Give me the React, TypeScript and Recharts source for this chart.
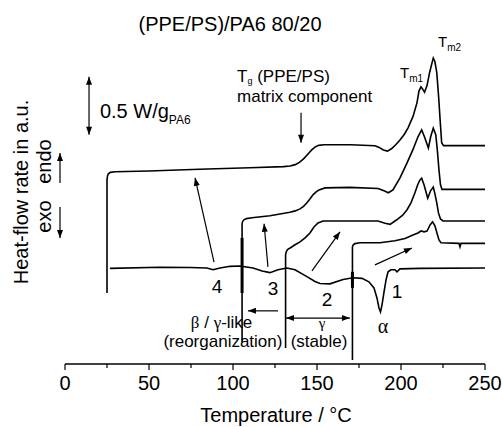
import React from "react";
import { LineChart, Line, XAxis, YAxis, ReferenceLine, ReferenceDot } from "recharts";

// DSC scans, [temperature °C, heat-flow rate a.u.]
const scan25: [number, number][] = [
  [25.0, 2.47], [25.0, 6.41], [25.3, 6.55], [25.8, 6.62], [27.0, 6.67], [29.8, 6.69], [50, 6.72],
  [80, 6.78], [110, 6.83], [130, 6.87], [134, 6.89], [137, 6.94], [139.5, 7.02], [142, 7.14],
  [144.5, 7.3], [147, 7.46], [149, 7.56], [151, 7.61], [154, 7.63], [170, 7.63], [184.5, 7.6],
  [187, 7.54], [189.5, 7.45], [192, 7.41], [194.5, 7.5], [197, 7.64], [199.4, 7.8], [202, 8.0],
  [204.2, 8.22], [207.1, 8.61], [209.5, 9.09], [210.7, 9.5], [211.9, 9.65], [213.1, 9.55],
  [214.0, 9.46], [215.5, 9.69], [217.0, 10.14], [218.5, 10.49], [219.2, 10.65], [220.2, 10.52],
  [221.3, 10.14], [222.4, 9.3], [223.4, 8.4], [224.2, 7.7], [225.3, 7.6], [250, 7.6],
];
const scan105: [number, number][] = [
  [105.4, 0.77], [105.4, 4.88], [105.7, 4.96], [106.5, 5.02], [108, 5.06], [111.3, 5.09], [122, 5.16],
  [133.9, 5.28], [137, 5.33], [139.9, 5.4], [142, 5.49], [144, 5.61], [146, 5.76], [147.6, 5.89],
  [149.5, 5.99], [151.2, 6.06], [154.8, 6.13], [169.6, 6.15], [186.3, 6.11], [189.9, 6.03],
  [192.5, 5.96], [195.2, 6.06], [199.4, 6.48], [203.6, 7.0], [207.1, 7.46], [210.1, 7.91],
  [212.3, 8.15], [213.9, 7.92], [216.3, 7.52], [217.7, 7.92], [219.2, 8.21], [220.7, 7.98],
  [221.6, 7.46], [222.6, 6.76], [223.5, 6.24], [224.4, 6.08], [250, 6.08],
];
const scan132: [number, number][] = [
  [131.3, 0.56], [131.3, 3.8], [131.8, 3.92], [132.8, 4.0], [134, 4.04], [136.9, 4.15], [139.9, 4.25],
  [142.9, 4.39], [145.8, 4.56], [148.2, 4.77], [150.6, 4.91], [153.6, 4.98], [170, 4.98], [186.3, 4.98],
  [190.5, 4.9], [193.5, 4.86], [196, 4.96], [198.2, 5.05], [201, 5.18], [203.6, 5.37], [206, 5.62],
  [208.3, 5.96], [210, 6.25], [211.3, 6.41], [212.3, 6.47], [213.7, 6.24], [215.9, 5.77],
  [217.6, 6.03], [219.2, 6.16], [220.2, 5.92], [221.3, 5.61], [222.3, 5.26], [223.5, 5.05],
  [225, 4.98], [250, 4.98],
];
const scan171: [number, number][] = [
  [171.1, 0.14], [171.1, 4.08], [171.6, 4.15], [172.6, 4.19], [175.6, 4.22], [187.5, 4.22],
  [196.4, 4.29], [202.4, 4.37], [207.1, 4.49], [210.1, 4.56], [211.9, 4.63], [213.7, 4.6],
  [215.5, 4.63], [217.3, 4.84], [218.8, 4.95], [220.2, 4.81], [221.4, 4.56], [222.6, 4.32],
  [223.8, 4.22], [234.5, 4.2], [235.1, 4.08], [235.7, 4.2], [250, 4.2],
];
const cooling: [number, number][] = [
  [26.8, 3.33], [56.5, 3.37], [74.4, 3.36], [84.5, 3.34], [88.1, 3.28], [92.3, 3.34], [98.2, 3.4],
  [104.2, 3.41], [111.9, 3.34], [117.3, 3.24], [122.0, 3.18], [126.8, 3.28], [132.1, 3.34],
  [136.9, 3.28], [144.0, 3.04], [148.8, 2.87], [151.8, 2.8], [157.7, 2.79], [165.5, 2.94],
  [171.4, 3.0], [176.8, 2.98], [180.9, 2.86], [183.9, 2.65], [185.7, 2.3], [186.9, 1.95],
  [187.8, 1.81], [188.7, 2.06], [189.9, 2.51], [191.1, 2.93], [192.3, 3.21], [194.0, 3.28],
  [196.4, 3.28], [197.6, 3.21], [199.4, 3.31], [211.3, 3.33], [250, 3.34],
];
// heavier bits where the start jumps cross the cooling trace
const jump105: [number, number][] = [[105.4, 2.47], [105.4, 4.39]];
const jump171: [number, number][] = [[171.1, 2.65], [171.1, 3.21]];

const xTicks = [0, 25, 50, 75, 100, 125, 150, 175, 200, 225, 250];
const yTicks = [0, 1, 2, 3, 4, 5, 6, 7, 8, 9, 10];

const toRows = (pts: [number, number][]) => pts.map(([t, v]) => ({ t, v }));

const SANS = "'Liberation Sans', Arial, Helvetica, sans-serif";
const SERIF = "'Liberation Serif', 'Times New Roman', serif";
const INK = "#000";

// arrows in data coords, head at "to"
const arrows = [
  { from: [88.7, 3.55], to: [77.4, 6.48] },
  { from: [120.8, 3.38], to: [118.5, 4.88] },
  { from: [147.0, 3.24], to: [163.7, 4.6] },
  { from: [184.5, 3.45], to: [206.5, 4.04] },
  { from: [140.5, 8.75], to: [140.5, 7.7] },
  { from: [14.3, 10.0], to: [14.3, 7.98], both: true },
  { from: [131.5, 1.6], to: [169.6, 1.6], both: true },
  { from: [126.8, 1.85], to: [108.9, 1.85] },
];

const headPts = (xa: number, ya: number, xb: number, yb: number) => {
  const a = Math.atan2(yb - ya, xb - xa);
  const L = 8;
  const W = 3;
  const bx = xb - L * Math.cos(a);
  const by = yb - L * Math.sin(a);
  const px = -Math.sin(a) * W;
  const py = Math.cos(a) * W;
  return `${xb},${yb} ${bx + px},${by + py} ${bx - px},${by - py}`;
};

const Arrow = ({ x1, y1, x2, y2, both }: any) => (
  <g>
    <line x1={x1} y1={y1} x2={x2} y2={y2} stroke={INK} strokeWidth={1.2} />
    <polygon points={headPts(x1, y1, x2, y2)} fill={INK} />
    {both && <polygon points={headPts(x2, y2, x1, y1)} fill={INK} />}
  </g>
);

const XTick = ({ x, y, payload }: any) => {
  const major = payload.value % 50 === 0;
  return (
    <g>
      <line x1={x} y1={y} x2={x} y2={y + (major ? 6 : 4)} stroke={INK} strokeWidth={1.2} />
      {major && (
        <text x={x} y={y + 26} textAnchor="middle" fontSize={20} fontFamily={SANS} fill={INK}>
          {payload.value}
        </text>
      )}
    </g>
  );
};

const label = (t: number, v: number, content: React.ReactNode, key: string) => (
  <ReferenceDot
    key={key}
    x={t}
    y={v}
    r={0}
    ifOverflow="visible"
    shape={(p: any) => (
      <text x={p.cx} y={p.cy} fontFamily={SANS} fill={INK}>
        {content}
      </text>
    )}
  />
);

export default function App() {
  const curves = [scan25, scan105, scan132, scan171, cooling];
  return (
    <div style={{ position: "relative", width: 503, height: 427, background: "#fff" }}>
      <style>{"body{margin:0}"}</style>
      <LineChart width={503} height={427} margin={{ top: 48, right: 18, bottom: 33, left: 65 }}>
        <XAxis
          type="number"
          dataKey="t"
          domain={[0, 250]}
          ticks={xTicks}
          height={30}
          tickSize={0}
          tickMargin={0}
          tickLine={false}
          tick={(p: any) => <XTick {...p} />}
          axisLine={{ stroke: INK, strokeWidth: 1.3 }}
          allowDataOverflow
        />
        <YAxis
          type="number"
          dataKey="v"
          domain={[0, 11]}
          ticks={yTicks}
          width={0}
          mirror
          tickSize={3}
          tickFormatter={() => ""}
          tickLine={{ stroke: INK }}
          axisLine={{ stroke: INK, strokeWidth: 1.3 }}
          allowDataOverflow
        />
        {curves.map((c, i) => (
          <Line
            key={i}
            data={toRows(c)}
            dataKey="v"
            type="linear"
            stroke={INK}
            strokeWidth={1.6}
            dot={false}
            activeDot={false}
            isAnimationActive={false}
          />
        ))}
        {[jump105, jump171].map((c, i) => (
          <Line
            key={"j" + i}
            data={toRows(c)}
            dataKey="v"
            type="linear"
            stroke={INK}
            strokeWidth={3}
            dot={false}
            activeDot={false}
            isAnimationActive={false}
          />
        ))}
        {arrows.map((a, i) => (
          <ReferenceLine
            key={"a" + i}
            segment={[
              { x: a.from[0], y: a.from[1] },
              { x: a.to[0], y: a.to[1] },
            ]}
            ifOverflow="visible"
            shape={(p: any) => <Arrow {...p} both={a.both} />}
          />
        ))}
        {label(20.8, 8.57, <tspan fontSize={20}>0.5 W/g<tspan fontSize={12} dy={6}>PA6</tspan></tspan>, "scale")}
        {label(102.4, 9.8, <tspan fontSize={17}>T<tspan fontSize={9} dy={2}>g</tspan><tspan dy={-2}> (PPE/PS)</tspan></tspan>, "tg")}
        {label(102.4, 9.13, <tspan fontSize={17}>matrix component</tspan>, "matrix")}
        {label(199.4, 9.97, <tspan fontSize={15}>T<tspan fontSize={10} dy={4}>m1</tspan></tspan>, "tm1")}
        {label(222.0, 11.05, <tspan fontSize={15}>T<tspan fontSize={10} dy={4}>m2</tspan></tspan>, "tm2")}
        {label(90.5, 2.47, <tspan fontSize={19} textAnchor="middle">4</tspan>, "n4")}
        {label(123.8, 2.4, <tspan fontSize={19} textAnchor="middle">3</tspan>, "n3")}
        {label(156.0, 2.02, <tspan fontSize={19} textAnchor="middle">2</tspan>, "n2")}
        {label(197.6, 2.3, <tspan fontSize={19} textAnchor="middle">1</tspan>, "n1")}
        {label(189.3, 1.08, <tspan fontSize={20} fontFamily={SERIF} textAnchor="middle">α</tspan>, "alpha")}
        {label(93.2, 1.25, <tspan fontSize={17} textAnchor="middle"><tspan fontFamily={SERIF}>β</tspan> / <tspan fontFamily={SERIF}>γ</tspan>-like</tspan>, "beta")}
        {label(94.0, 0.59, <tspan fontSize={17} textAnchor="middle">(reorganization)</tspan>, "reorg")}
        {label(153.0, 1.25, <tspan fontSize={15} fontFamily={SERIF} textAnchor="middle">γ</tspan>, "gamma")}
        {label(151.2, 0.59, <tspan fontSize={17} textAnchor="middle">(stable)</tspan>, "stable")}
      </LineChart>
      <svg
        width={503}
        height={427}
        style={{ position: "absolute", left: 0, top: 0, pointerEvents: "none" }}
        fontFamily={SANS}
        fill={INK}
      >
        <text x={230} y={31} textAnchor="middle" fontSize={20}>(PPE/PS)/PA6 80/20</text>
        <text x={276} y={422} textAnchor="middle" fontSize={20}>Temperature / °C</text>
        <text transform="translate(28,192) rotate(-90)" textAnchor="middle" fontSize={20}>Heat-flow rate in a.u.</text>
        <text transform="translate(50.5,161.5) rotate(-90)" textAnchor="middle" fontSize={20}>endo</text>
        <text transform="translate(50.5,216.5) rotate(-90)" textAnchor="middle" fontSize={20}>exo</text>
        <Arrow x1={60} y1={183} x2={60} y2={153} />
        <Arrow x1={60} y1={207} x2={60} y2={238} />
      </svg>
    </div>
  );
}
